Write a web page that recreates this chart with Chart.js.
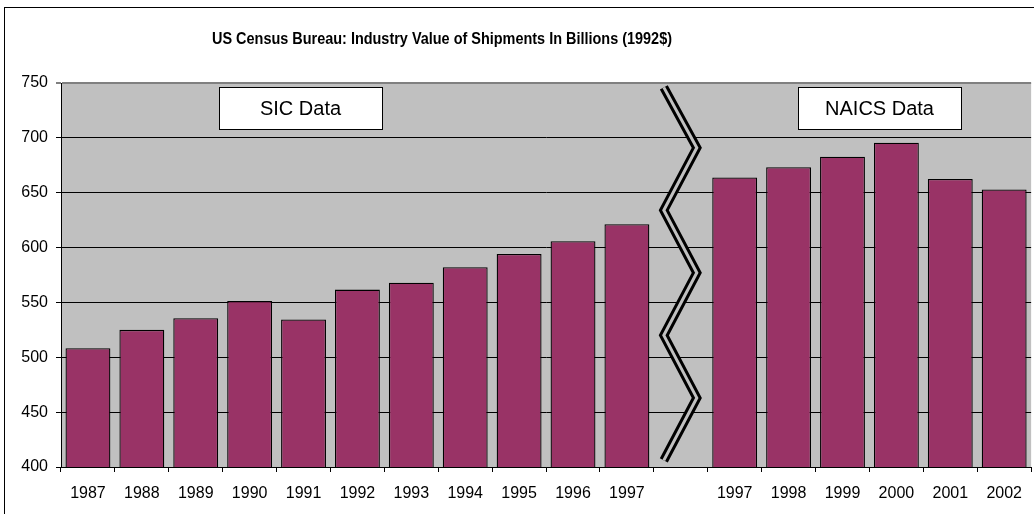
<!DOCTYPE html>
<html>
<head>
<meta charset="utf-8">
<script src="https://cdn.jsdelivr.net/npm/chart.js@4"></script>
<style>
  html, body { margin: 0; padding: 0; background: #fff; }
  #wrap { width: 1034px; height: 514px; position: relative; }
</style>
</head>
<body>
<div id="wrap"><canvas id="c"></canvas></div>
<script>
const chartTitle = 'US Census Bureau: Industry Value of Shipments In Billions (1992$)';
const categories = ['1987','1988','1989','1990','1991','1992','1993','1994','1995','1996','1997','',
                    '1997','1998','1999','2000','2001','2002'];
const shipmentValues = [508.2, 525.0, 535.6, 551.3, 534.4, 561.7, 567.9, 582.0, 594.2, 605.8, 621.3, null,
                        663.9, 673.2, 682.8, 695.5, 662.6, 653.0];
const yMin = 400, yMax = 750, yStep = 50;
const sicLabel = 'SIC Data';
const naicsLabel = 'NAICS Data';

const FONT = '"Liberation Sans", Arial, sans-serif';

const decorPlugin = {
  id: 'decor',
  beforeDraw(chart) {
    const { ctx, chartArea: a } = chart;
    ctx.save();
    ctx.fillStyle = '#fff';
    ctx.fillRect(0, 0, chart.width, chart.height);
    ctx.fillStyle = '#C0C0C0';
    ctx.fillRect(a.left, a.top, a.right - a.left, a.bottom - a.top);
    ctx.strokeStyle = '#000';
    ctx.lineWidth = 1;
    ctx.strokeRect(4.5, 7.5, 1200, 700);
    ctx.restore();
  },
  afterDatasetsDraw(chart) {
    const { ctx } = chart;
    const xs = chart.scales.x, ys = chart.scales.y;
    // axis break zigzag in the empty category
    const gapIndex = categories.indexOf('');
    const cx = xs.getPixelForValue(gapIndex);
    const zig = [[-17, 746], [16, 691], [-17, 634], [16, 577], [-17, 520], [16, 463], [-17, 406]];
    ctx.save();
    ctx.lineJoin = 'miter';
    ctx.beginPath();
    zig.forEach(([dx, v], i) => {
      const px = cx + dx, py = ys.getPixelForValue(v);
      if (i === 0) ctx.moveTo(px, py); else ctx.lineTo(px, py);
    });
    ctx.strokeStyle = '#000';
    ctx.lineWidth = 9;
    ctx.stroke();
    ctx.strokeStyle = '#C0C0C0';
    ctx.lineWidth = 3;
    ctx.stroke();
    ctx.restore();

    // text boxes
    const box = (x, y, w, h, txt) => {
      ctx.save();
      ctx.fillStyle = '#fff';
      ctx.fillRect(x, y, w, h);
      ctx.strokeStyle = '#000';
      ctx.lineWidth = 1;
      ctx.strokeRect(x + 0.5, y + 0.5, w, h);
      ctx.fillStyle = '#000';
      ctx.font = '20px ' + FONT;
      ctx.textAlign = 'center';
      ctx.textBaseline = 'middle';
      ctx.fillText(txt, x + w / 2, y + h / 2 + 1);
      ctx.restore();
    };
    box(219, 87, 163, 42, sicLabel);
    box(798, 87, 163, 42, naicsLabel);
  },
  afterDraw(chart) {
    const { ctx } = chart;
    ctx.save();
    ctx.font = 'bold 16.5px ' + FONT;
    ctx.fillStyle = '#000';
    ctx.textAlign = 'center';
    ctx.textBaseline = 'alphabetic';
    const w = ctx.measureText(chartTitle).width;
    ctx.translate(442, 43.5);
    ctx.scale(460 / w, 1);
    ctx.fillText(chartTitle, 0, 0);
    ctx.restore();
  }
};

new Chart(document.getElementById('c'), {
  type: 'bar',
  data: {
    labels: categories,
    datasets: [{
      data: shipmentValues,
      backgroundColor: '#993366',
      borderColor: '#000',
      borderWidth: 1.3,
      borderSkipped: false,
      categoryPercentage: 1.0,
      barPercentage: 0.833
    }]
  },
  options: {
    responsive: true,
    maintainAspectRatio: false,
    animation: false,
    layout: { padding: { left: 0, right: 1, top: 83, bottom: 0 } },
    plugins: { legend: { display: false }, title: { display: false }, tooltip: { enabled: false } },
    scales: {
      x: {
        offset: true,
        grid: { drawOnChartArea: false, drawTicks: true, tickLength: 5, color: '#000', offset: true },
        border: { color: '#000', width: 1 },
        ticks: { autoSkip: false, maxRotation: 0, minRotation: 0, padding: 12, color: '#000',
                 font: { family: FONT, size: 16 } },
        afterFit(s) { s.height = 47; }
      },
      y: {
        min: yMin, max: yMax,
        ticks: { stepSize: yStep, padding: 8, color: '#000', font: { family: FONT, size: 16 } },
        grid: {
          tickLength: 5,
          color: (c) => (c.tick && c.tick.value === yMax) ? '#808080' : '#000',
          lineWidth: (c) => (c.tick && c.tick.value === yMax) ? 2 : 1
        },
        border: { color: '#000', width: 1 },
        afterFit(s) { s.width = 61; }
      }
    }
  },
  plugins: [decorPlugin]
});
</script>
</body>
</html>
